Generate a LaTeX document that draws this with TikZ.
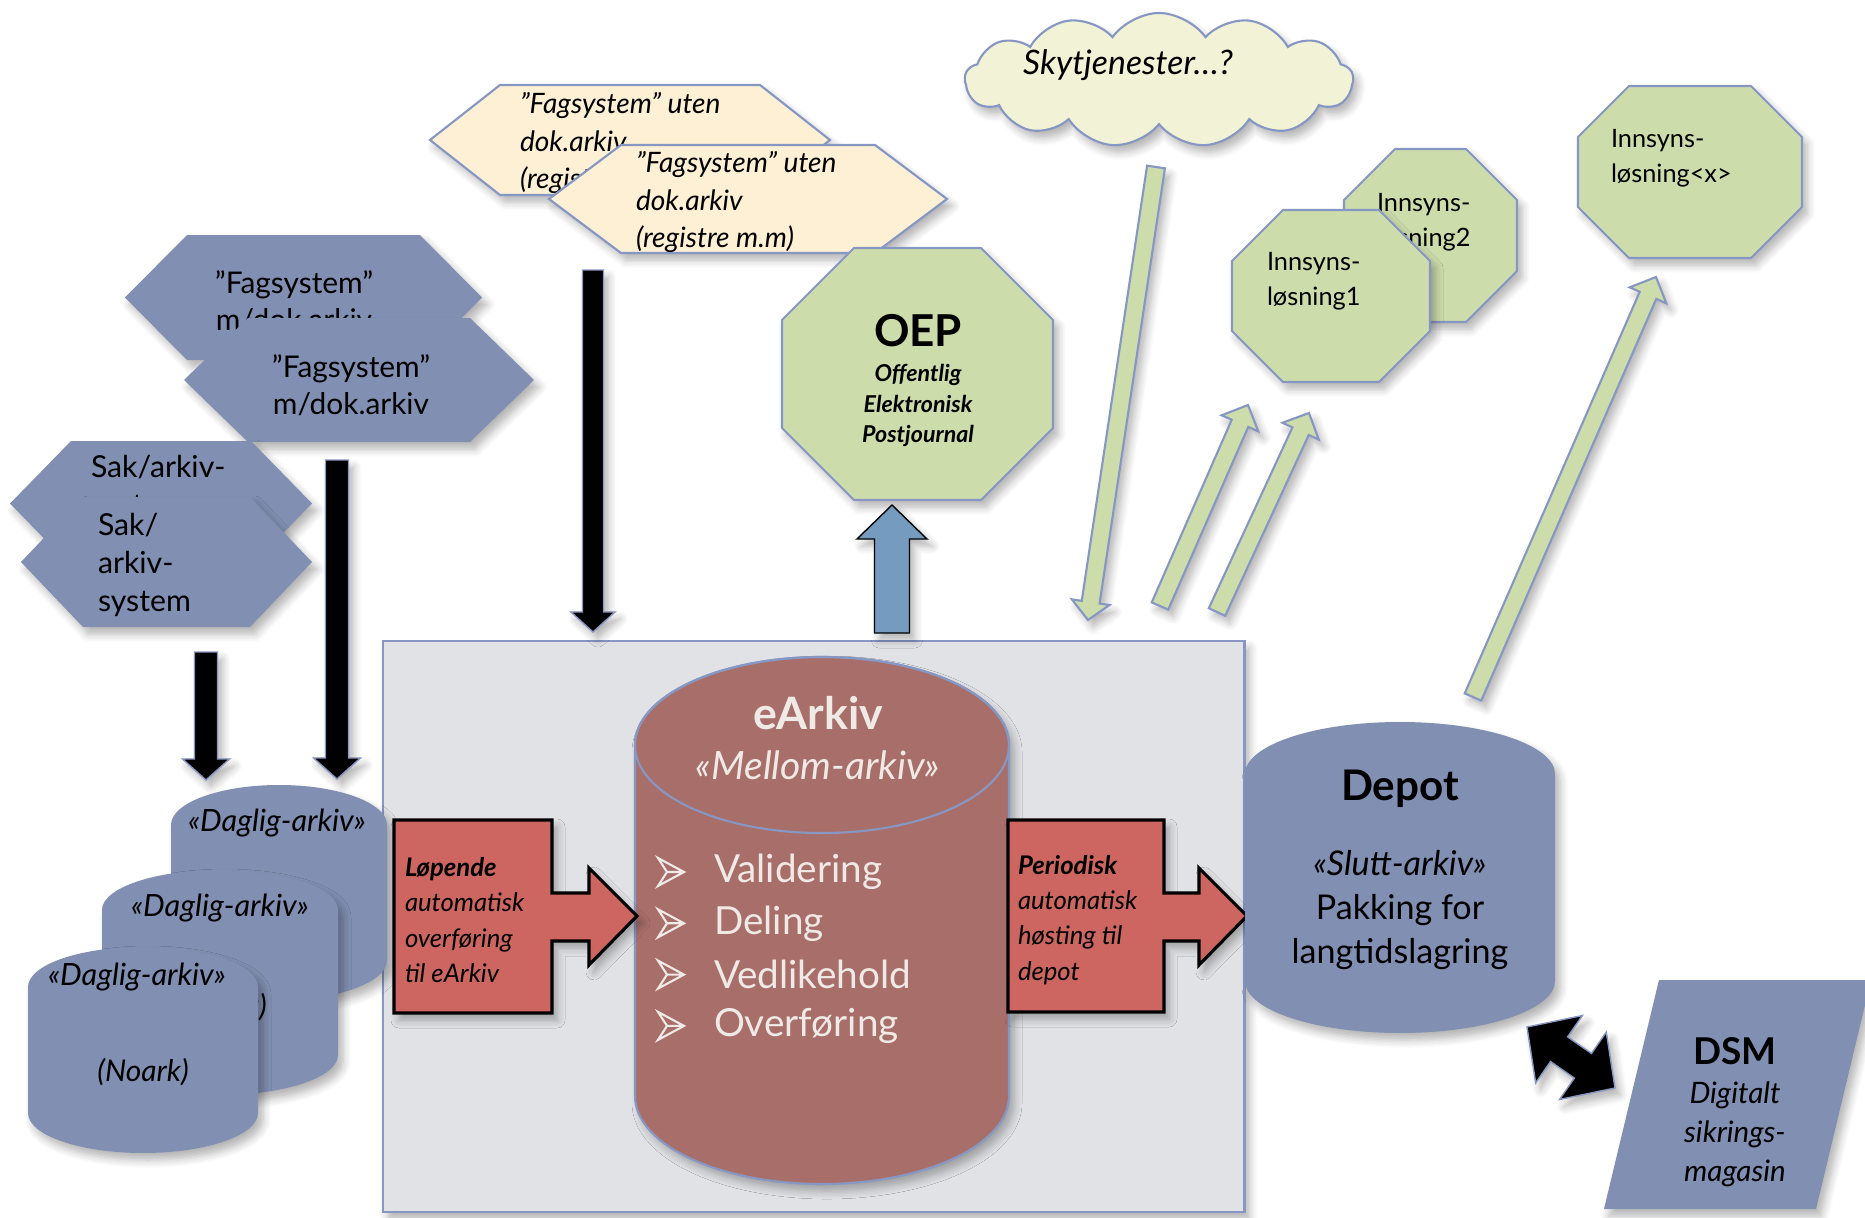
\documentclass[tikz,border=0pt]{standalone}
\usepackage{fontspec}
\setmainfont{Lato}
\usetikzlibrary{calc,shapes.symbols,shadows.blur}

\definecolor{slate}{RGB}{129,143,178}
\definecolor{slateline}{RGB}{134,151,196}
\definecolor{sage}{RGB}{205,220,171}
\definecolor{cream}{RGB}{253,240,212}
\definecolor{mist}{RGB}{241,242,214}
\definecolor{panel}{RGB}{224,226,229}
\definecolor{rosewood}{RGB}{168,111,106}
\definecolor{brick}{RGB}{205,102,96}
\definecolor{steel}{RGB}{117,155,190}
\definecolor{chalk}{RGB}{240,234,230}

% block arrow: style, tail, tip, half shaft, half head, head length
\newcommand{\blockarrow}[6]{%
  \coordinate (hb) at ($#3!#6!#2$);
  \filldraw[#1] ($#2!#4!90:#3$) -- ($(hb)!#4!-90:#2$) -- ($(hb)!#5!-90:#2$) -- #3
    -- ($(hb)!#5!90:#2$) -- ($(hb)!#4!90:#2$) -- ($#2!#4!-90:#3$) -- cycle;}
% same with a head at both ends
\newcommand{\twowayarrow}[6]{%
  \coordinate (hb1) at ($#2!#6!#3$);
  \coordinate (hb2) at ($#3!#6!#2$);
  \filldraw[#1] #2 -- ($(hb1)!#5!90:#3$) -- ($(hb1)!#4!90:#3$) -- ($(hb2)!#4!-90:#2$)
    -- ($(hb2)!#5!-90:#2$) -- #3 -- ($(hb2)!#5!90:#2$) -- ($(hb2)!#4!90:#2$)
    -- ($(hb1)!#4!-90:#3$) -- ($(hb1)!#5!-90:#3$) -- cycle;}
% left x, right x, top, bottom, inset
\newcommand{\hexpath}[5]{(#1,{(#3+#4)/2}) -- ({#1+#5},#3) -- ({#2-#5},#3) -- (#2,{(#3+#4)/2}) -- ({#2-#5},#4) -- ({#1+#5},#4) -- cycle}
% x0, y0, x1, y1, cut
\newcommand{\octpath}[5]{({#1+#5},#2) -- ({#3-#5},#2) -- (#3,{#2+#5}) -- (#3,{#4-#5}) -- ({#3-#5},#4) -- ({#1+#5},#4) -- (#1,{#4-#5}) -- (#1,{#2+#5}) -- cycle}
% centre x, top, bottom, rx, ry
\newcommand{\cylpath}[5]{({#1-#4},{#2+#5}) -- ({#1-#4},{#3-#5}) arc[start angle=180,end angle=360,x radius=#4*0.01cm,y radius=#5*0.01cm] -- ({#1+#4},{#2+#5}) arc[start angle=0,end angle=180,x radius=#4*0.01cm,y radius=#5*0.01cm] -- cycle}

\begin{document}
\begin{tikzpicture}[x=0.01cm,y=-0.01cm,
  every node/.style={inner sep=0pt,outer sep=0pt},
  fs/.style n args={3}{font=\fontsize{#1}{#2}\selectfont#3},
  soft/.style={blur shadow={shadow xshift=0.5mm,shadow yshift=-0.7mm,shadow blur radius=0.8mm,shadow blur steps=6,shadow opacity=30}},
  slateshape/.style={fill=slate,soft},
  sageshape/.style={fill=sage,draw=slateline,line width=0.6pt,soft},
  creamshape/.style={fill=cream,draw=slateline,line width=0.6pt,soft},
  redshape/.style={fill=brick,draw=black,line width=0.9pt,soft},
  blackarrow/.style={fill=black,draw=slateline,line width=0.4pt,soft},
  greenarrow/.style={fill=sage,draw=slateline,line width=0.6pt,soft},
  bluearrow/.style={fill=steel,soft}]
\useasboundingbox (0,0) rectangle (1865,1218);

% eArkiv area
\node[draw=slateline,fill=panel,line width=0.6pt,soft,minimum width=8.61cm,minimum height=5.71cm,anchor=north west] (panel) at (383,641) {};

% fagsystem m/dok.arkiv
\fill[slateshape] \hexpath{125}{482}{235}{360}{62};
\node[fs={8.5}{10.5}{},align=center] (fag1) at (294,301) {”Fagsystem”\\m/dok.arkiv};
\fill[slateshape] \hexpath{184}{534}{318}{442}{64};
\node[fs={8.5}{10.5}{},align=center] (fag2) at (351,385) {”Fagsystem”\\m/dok.arkiv};

% sak/arkiv
\fill[slateshape] \hexpath{10}{312}{441}{566}{61};
\node[fs={8.6}{10.8}{},align=left,anchor=west] (sak1) at (91,488) {Sak/arkiv-\\system};
\fill[slateshape] \hexpath{21}{312}{497}{627}{62};
\node[fs={8.6}{10.8}{},align=left,anchor=west] (sak2) at (98,565) {Sak/\\arkiv-\\system};

% fagsystem uten dok.arkiv
\filldraw[creamshape] \hexpath{430}{830}{85}{195}{70};
\node[fs={8}{10.6}{\itshape},align=left,anchor=west] (yel1) at (520,143) {”Fagsystem” uten\\dok.arkiv\\(registre m.m)};
\filldraw[creamshape] \hexpath{549}{947}{145}{253}{72};
\node[fs={8}{10.6}{\itshape},align=left,anchor=west] (yel2) at (636,202) {”Fagsystem” uten\\dok.arkiv\\(registre m.m)};

% black arrows down
\coordinate (sak-out) at (206,652);
\coordinate (dag-in1) at (206,780);
\coordinate (fag-out) at (337,460);
\coordinate (dag-in2) at (337,779);
\coordinate (yel-out) at (593,270);
\coordinate (panel-in) at (593,632);
\blockarrow{blackarrow}{(sak-out)}{(dag-in1)}{0.115cm}{0.235cm}{0.21cm}
\blockarrow{blackarrow}{(fag-out)}{(dag-in2)}{0.115cm}{0.235cm}{0.21cm}
\blockarrow{blackarrow}{(yel-out)}{(panel-in)}{0.105cm}{0.22cm}{0.2cm}

% daglig-arkiv
\fill[slateshape] \cylpath{279}{785}{1000}{108}{40};
\node[fs={8.7}{10}{\itshape}] (dag1) at (277,823) {«Daglig-arkiv»};
\fill[slateshape] \cylpath{220}{870}{1095}{118}{40};
\node[fs={8.7}{10}{\itshape}] (dag2) at (220,908) {«Daglig-arkiv»};
\node[fs={8.5}{10}{\itshape}] (dag2-sub) at (221,1007) {(Noark)};
\fill[slateshape] \cylpath{143}{947}{1153}{115}{40};
\node[fs={8.7}{10}{\itshape}] (dag3) at (137,977) {«Daglig-arkiv»};
\node[fs={8.5}{10}{\itshape}] (dag3-sub) at (143,1072) {(Noark)};

% eArkiv
\filldraw[fill=rosewood,draw=slateline,line width=0.6pt,soft] \cylpath{822}{657}{1184}{187}{88};
\draw[slateline,line width=0.6pt] (822,745) ellipse[x radius=1.87cm,y radius=0.88cm];
\node[fs={11.1}{14.2}{\itshape},text=chalk,align=center] (earkiv) at (818,738) {{\fontsize{12.7}{14.2}\selectfont\bfseries\upshape eArkiv}\\«Mellom-arkiv»};
\foreach \w [count=\i] in {Validering,Deling,Vedlikehold,Overføring}{
  \pgfmathsetmacro{\yy}{872+51.3*(\i-1)}
  \draw[chalk,line width=0.6pt,line join=miter] (658,\yy-14) -- (684,\yy) -- (658,\yy+14) -- (667,\yy) -- cycle (667,\yy) -- (684,\yy);
  \node[fs={11}{12}{},text=chalk,anchor=west] (item-\i) at (714,\yy) {\w};
}

% transfer arrows
\filldraw[redshape] (394,820) -- (552,820) -- (552,893) -- (589,893) -- (589,868) -- (637,916) -- (589,965) -- (589,941) -- (552,941) -- (552,1013) -- (394,1013) -- cycle;
\node[fs={7.3}{10}{\itshape},align=left,anchor=west] (lop) at (405,920) {{\bfseries Løpende}\\automatisk\\overføring\\til eArkiv};
\filldraw[redshape] (1008,820) -- (1164,820) -- (1164,893) -- (1199,893) -- (1199,868) -- (1247,916) -- (1199,965) -- (1199,941) -- (1164,941) -- (1164,1012) -- (1008,1012) -- cycle;
\node[fs={7.3}{10}{\itshape},align=left,anchor=west] (per) at (1018,920) {{\bfseries Periodisk}\\automatisk\\høsting til\\depot};

% depot
\fill[slateshape] \cylpath{1400}{722}{1033}{155}{52};
\node[fs={9.7}{12.5}{},align=center] (depot) at (1400,870) {{\fontsize{12}{12.5}\selectfont\bfseries Depot}\\[9pt]{\itshape «Slutt-arkiv»}\\Pakking for\\langtidslagring};

% DSM
\fill[slateshape] (1659,980) -- (1871,980) -- (1816,1209) -- (1604,1209) -- cycle;
\node[fs={8.4}{11.1}{\itshape},align=center] (dsm) at (1735,1112) {{\fontsize{10.5}{11.1}\selectfont\bfseries\upshape DSM}\\Digitalt\\sikrings-\\magasin};
\coordinate (depot-link) at (1527,1027);
\coordinate (dsm-link) at (1615,1088);
\twowayarrow{blackarrow}{(depot-link)}{(dsm-link)}{0.15cm}{0.41cm}{0.39cm}

% OEP
\filldraw[sageshape] \octpath{782}{248}{1053}{500}{72};
\node[fs={6.6}{8.7}{\bfseries\itshape},align=center] (oep) at (918,381) {{\fontsize{12.5}{12}\selectfont\upshape OEP}\\[1.2pt]Offentlig\\Elektronisk\\Postjournal};
\coordinate (panel-up) at (892,633);
\coordinate (oep-in) at (892,505);
\blockarrow{bluearrow}{(panel-up)}{(oep-in)}{0.175cm}{0.35cm}{0.34cm}

% sky
\node[cloud,cloud puffs=13,cloud puff arc=110,cloud ignores aspect,minimum width=3.88cm,minimum height=1.34cm,fill=mist,draw=slateline,line width=0.6pt,soft] (sky) at (1159,80) {};
\node[fs={9.6}{11}{\itshape}] (sky-label) at (1128,65) {Skytjenester…?};

% innsyn
\filldraw[sageshape] \octpath{1344}{149}{1517}{322}{51};
\node[fs={7.2}{10}{},align=left,anchor=west] (inn2) at (1377,222) {Innsyns-\\løsning2};
\filldraw[sageshape] \octpath{1232}{210}{1430}{382}{51};
\node[fs={7.2}{10}{},align=left,anchor=west] (inn1) at (1267,281) {Innsyns-\\løsning1};
\filldraw[sageshape] \octpath{1578}{86}{1802}{258}{51};
\node[fs={7.2}{10}{},align=left,anchor=west] (innx) at (1611,158) {Innsyns-\\løsning<x>};

% green arrows
\coordinate (sky-out) at (1156,167);
\coordinate (panel-top) at (1088,620);
\coordinate (panel-out1) at (1160,606);
\coordinate (inn-in1) at (1248,405);
\coordinate (panel-out2) at (1217,612);
\coordinate (inn-in2) at (1309,413);
\coordinate (depot-out) at (1473,697);
\coordinate (innx-in) at (1656,277);
\blockarrow{greenarrow}{(sky-out)}{(panel-top)}{0.09cm}{0.19cm}{0.18cm}
\blockarrow{greenarrow}{(panel-out1)}{(inn-in1)}{0.09cm}{0.2cm}{0.2cm}
\blockarrow{greenarrow}{(panel-out2)}{(inn-in2)}{0.09cm}{0.2cm}{0.2cm}
\blockarrow{greenarrow}{(depot-out)}{(innx-in)}{0.09cm}{0.2cm}{0.2cm}
\end{tikzpicture}
\end{document}
